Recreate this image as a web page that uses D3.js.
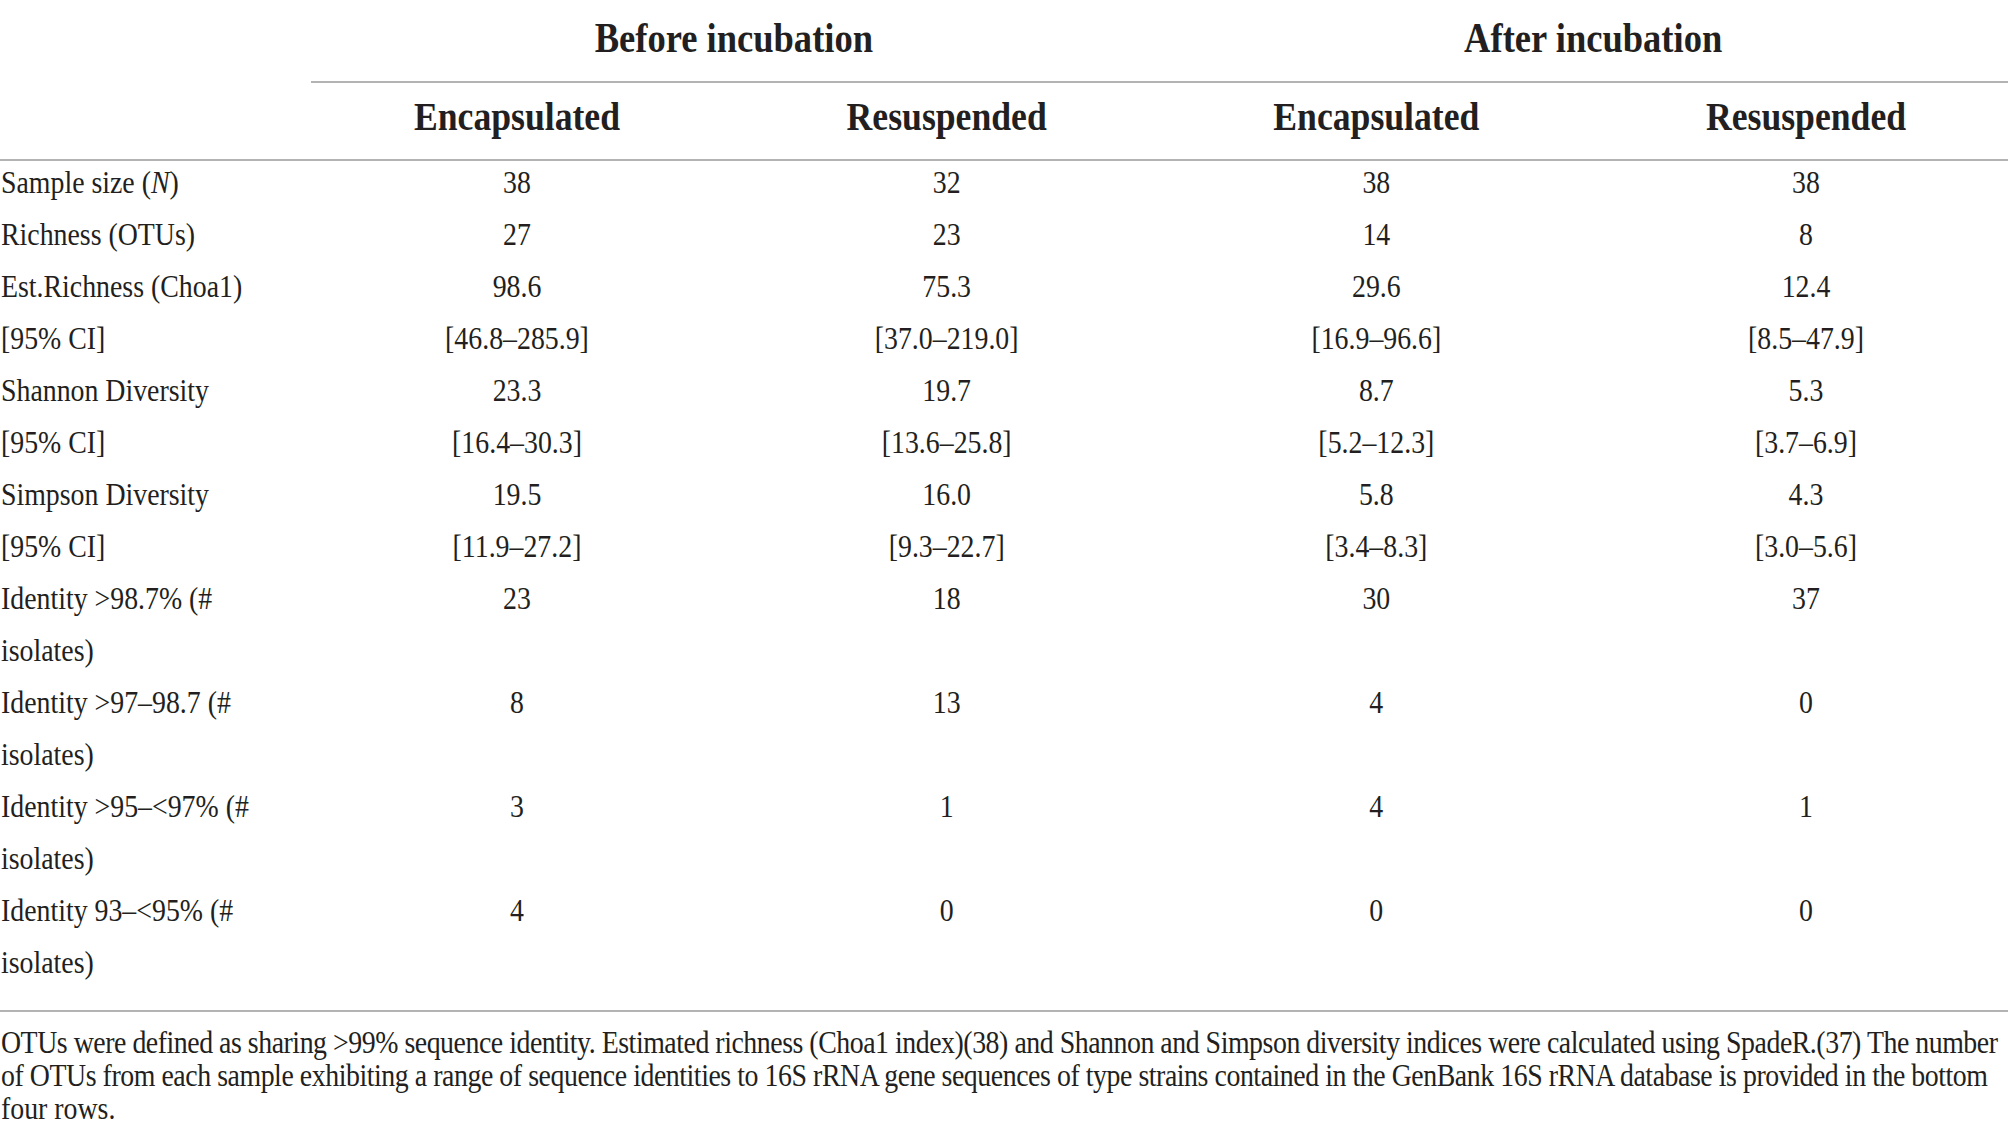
<!DOCTYPE html>
<html>
<head>
<meta charset="utf-8">
<script src="https://cdn.jsdelivr.net/npm/d3@7"></script>
<style>
  html, body { margin: 0; padding: 0; background: #fff; }
  svg { display: block; }
</style>
</head>
<body>
<div id="chart"></div>
<script>
// table content
var groups = ["Before incubation", "After incubation"];
var columns = ["Encapsulated", "Resuspended", "Encapsulated", "Resuspended"];
var rowLabels = [
  "Sample size (N)", "Richness (OTUs)", "Est.Richness (Choa1)", "[95% CI]",
  "Shannon Diversity", "[95% CI]", "Simpson Diversity", "[95% CI]",
  "Identity >98.7% (#", "isolates)", "Identity >97\u201398.7 (#", "isolates)",
  "Identity >95\u2013<97% (#", "isolates)", "Identity 93\u2013<95% (#", "isolates)"
];
var beforeEncap = ["38", "27", "98.6", "[46.8\u2013285.9]", "23.3", "[16.4\u201330.3]", "19.5", "[11.9\u201327.2]", "23", "", "8", "", "3", "", "4", ""];
var beforeResus = ["32", "23", "75.3", "[37.0\u2013219.0]", "19.7", "[13.6\u201325.8]", "16.0", "[9.3\u201322.7]", "18", "", "13", "", "1", "", "0", ""];
var afterEncap  = ["38", "14", "29.6", "[16.9\u201396.6]", "8.7", "[5.2\u201312.3]", "5.8", "[3.4\u20138.3]", "30", "", "4", "", "4", "", "0", ""];
var afterResus  = ["38", "8", "12.4", "[8.5\u201347.9]", "5.3", "[3.7\u20136.9]", "4.3", "[3.0\u20135.6]", "37", "", "0", "", "1", "", "0", ""];
var footnote = [
  "OTUs were defined as sharing >99% sequence identity. Estimated richness (Choa1 index)(38) and Shannon and Simpson diversity indices were calculated using SpadeR.(37) The number",
  "of OTUs from each sample exhibiting a range of sequence identities to 16S rRNA gene sequences of type strains contained in the GenBank 16S rRNA database is provided in the bottom",
  "four rows."
];

var W = 2008, H = 1139;
var ink = "#231f20", rule = "#b3b3b3";
var font = "'Liberation Serif', 'DejaVu Serif', serif";
var sx = 0.87; // the original face is narrower than Times

var svg = d3.select("#chart").append("svg").attr("width", W).attr("height", H);

var values = [beforeEncap, beforeResus, afterEncap, afterResus];
var x = d3.scalePoint().domain(d3.range(columns.length)).range([517, 1806]);
var y = d3.scaleLinear().domain([0, 1]).range([193, 245]); // row baselines

function put(sel, px, py, anchor) {
  return sel.attr("transform", "translate(" + px + "," + py + ") scale(" + sx + ",1)")
    .attr("text-anchor", anchor).attr("fill", ink).style("font-family", font);
}

// rules
var lines = [[311, W, 82], [0, W, 160], [0, W, 1011]];
svg.selectAll("line.rule").data(lines).enter().append("line")
  .attr("class", "rule")
  .attr("x1", function(d){ return d[0]; }).attr("x2", function(d){ return d[1]; })
  .attr("y1", function(d){ return d[2]; }).attr("y2", function(d){ return d[2]; })
  .attr("stroke", rule).attr("stroke-width", 2);

// group headers
svg.selectAll("text.group").data(groups).enter().append("text")
  .attr("class", "group")
  .each(function(d, i){
    var cx = (x(i * 2) + x(i * 2 + 1)) / 2 + 2;
    put(d3.select(this), cx, 52, "middle");
  })
  .style("font-size", "42px").style("font-weight", "bold")
  .text(function(d){ return d; });

// column headers
svg.selectAll("text.col").data(columns).enter().append("text")
  .attr("class", "col")
  .each(function(d, i){ put(d3.select(this), x(i), 130, "middle"); })
  .style("font-size", "41px").style("font-weight", "bold")
  .text(function(d){ return d; });

// row labels
svg.selectAll("text.rowlab").data(rowLabels).enter().append("text")
  .attr("class", "rowlab")
  .each(function(d, i){
    var t = put(d3.select(this), 1, y(i), "start").style("font-size", "32px");
    if (d === "Sample size (N)") {
      t.append("tspan").text("Sample size (");
      t.append("tspan").style("font-style", "italic").text("N");
      t.append("tspan").text(")");
    } else {
      t.text(d);
    }
  });

// body cells
values.forEach(function(col, c){
  svg.selectAll("text.cell" + c).data(col).enter().append("text")
    .attr("class", "cell" + c)
    .each(function(d, i){ put(d3.select(this), x(c), y(i), "middle"); })
    .style("font-size", "32px")
    .text(function(d){ return d; });
});

// footnote
var fy = [1053, 1086, 1119];
var fw = [1997 / sx, 1987 / sx, null];
svg.selectAll("text.note").data(footnote).enter().append("text")
  .attr("class", "note")
  .each(function(d, i){
    var t = put(d3.select(this), 1, fy[i], "start").style("font-size", "32px");
    if (fw[i]) t.attr("textLength", fw[i]).attr("lengthAdjust", "spacing");
  })
  .text(function(d){ return d; });
</script>
</body>
</html>
